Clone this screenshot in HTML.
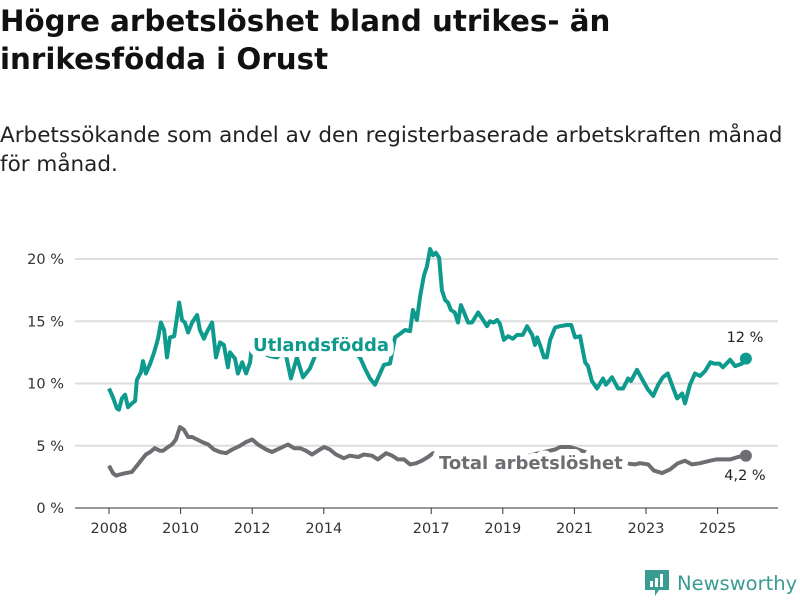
<!DOCTYPE html>
<html><head><meta charset="utf-8"><style>
body{margin:0;width:800px;height:600px;background:#fff;font-family:"DejaVu Sans","Liberation Sans",sans-serif;overflow:hidden;position:relative}
#title{position:absolute;left:0;top:2px;font-size:29.3px;font-weight:bold;line-height:38px;color:#111;margin:0}
#sub{position:absolute;left:0;top:121px;font-size:21.5px;line-height:29px;color:#222;margin:0}
svg{position:absolute;left:0;top:0}
</style></head><body>
<h1 id="title">Högre arbetslöshet bland utrikes- än<br>inrikesfödda i Orust</h1>
<p id="sub">Arbetssökande som andel av den registerbaserade arbetskraften månad<br>för månad.</p>
<svg id="chart" width="800" height="600"></svg>
<script>
const yTicks=[0,5,10,15,20];
const yTickLabels=["0 %","5 %","10 %","15 %","20 %"];
const xTicks=[2008,2010,2012,2014,2017,2019,2021,2023,2025];
const foreignDates=[
2008.00,2008.11,2008.22,2008.28,2008.36,2008.45,2008.53,2008.64,2008.73,2008.78,2008.89,2008.95,
2009.03,2009.15,2009.26,2009.37,2009.45,2009.54,2009.62,2009.70,2009.82,2009.96,
2010.04,2010.12,2010.21,2010.32,2010.46,2010.54,2010.65,2010.71,2010.88,2010.99,
2011.10,2011.21,2011.32,2011.38,2011.52,2011.60,2011.72,2011.83,2011.94,
2012.02,2012.22,2012.50,2012.69,2012.92,
2013.08,2013.25,2013.42,2013.61,2013.84,
2014.09,2014.45,2014.73,
2015.01,2015.15,2015.29,2015.43,2015.57,2015.68,2015.85,2015.99,
2016.13,2016.27,2016.41,2016.49,2016.60,2016.69,2016.80,2016.88,2016.97,
2017.05,2017.13,2017.22,2017.30,2017.39,2017.47,2017.55,2017.66,2017.75,2017.83,2017.92,
2018.03,2018.14,2018.31,2018.45,2018.56,2018.64,2018.75,2018.84,2018.92,
2019.03,2019.15,2019.28,2019.40,2019.56,2019.68,2019.82,2019.90,2019.96,
2020.04,2020.15,2020.23,2020.32,2020.46,2020.60,2020.79,2020.91,
2021.02,2021.16,2021.30,2021.38,2021.49,2021.63,2021.80,2021.88,
2022.05,2022.22,2022.36,2022.50,2022.58,2022.75,2022.92,
2023.06,2023.20,2023.34,2023.47,2023.61,2023.75,2023.87,
2024.01,2024.09,2024.23,2024.37,2024.51,2024.65,2024.80,2024.90,
2025.05,2025.15,2025.35,2025.49,2025.68,2025.79];
const foreignValues=[
9.6,8.9,8.0,7.9,8.8,9.1,8.1,8.4,8.6,10.3,10.9,11.8,
10.8,11.6,12.5,13.6,14.9,14.3,12.1,13.7,13.8,16.5,
15.1,14.9,14.1,14.9,15.5,14.3,13.6,14.0,14.9,12.1,
13.3,13.1,11.3,12.5,12.0,10.8,11.7,10.8,11.7,
13.7,12.5,12.2,12.1,12.6,
10.4,12.1,10.5,11.2,12.8,
12.3,12.9,12.6,
12.1,11.2,10.4,9.9,10.8,11.5,11.6,13.7,
14.0,14.3,14.2,15.9,15.1,17.0,18.7,19.4,20.8,
20.3,20.5,20.1,17.5,16.7,16.5,15.9,15.7,14.9,16.3,15.7,
14.9,14.9,15.7,15.1,14.6,15.0,14.9,15.1,14.8,
13.5,13.8,13.6,13.9,13.9,14.6,13.9,13.1,13.7,
13.1,12.1,12.1,13.5,14.5,14.6,14.7,14.7,
13.7,13.8,11.7,11.4,10.2,9.6,10.4,9.9,
10.5,9.6,9.6,10.4,10.2,11.1,10.2,
9.5,9.0,9.9,10.5,10.8,9.7,8.8,
9.2,8.4,9.9,10.8,10.6,11.0,11.7,11.6,
11.6,11.3,11.9,11.4,11.6,12.0];
const totalDates=[2008.00,2008.11,2008.20,2008.31,2008.47,2008.64,2008.78,2008.92,2009.03,2009.15,2009.28,2009.42,2009.51,2009.65,2009.76,2009.87,2009.98,2010.09,2010.21,2010.32,2010.46,2010.60,2010.77,2010.93,2011.10,2011.27,2011.44,2011.66,2011.83,2012.00,2012.16,2012.39,2012.55,2012.78,2013.00,2013.17,2013.34,2013.50,2013.67,2013.89,2014.01,2014.17,2014.34,2014.56,2014.73,2014.96,2015.12,2015.35,2015.51,2015.74,2015.91,2016.07,2016.24,2016.41,2016.58,2016.74,2016.91,2017.05,2017.5,2018.0,2018.5,2019.0,2019.5,2020.0,2020.46,2020.60,2020.88,2021.10,2021.5,2022.0,2022.4,2022.69,2022.83,2023.06,2023.22,2023.45,2023.67,2023.89,2024.09,2024.28,2024.51,2024.79,2024.96,2025.12,2025.35,2025.57,2025.79];
const totalValues=[3.4,2.8,2.6,2.7,2.8,2.9,3.4,3.9,4.3,4.5,4.8,4.6,4.6,4.9,5.1,5.5,6.5,6.3,5.7,5.7,5.5,5.3,5.1,4.7,4.5,4.4,4.7,5.0,5.3,5.5,5.1,4.7,4.5,4.8,5.1,4.8,4.8,4.6,4.3,4.7,4.9,4.7,4.3,4.0,4.2,4.1,4.3,4.2,3.9,4.4,4.2,3.9,3.9,3.5,3.6,3.8,4.1,4.4,4.2,3.9,3.8,3.9,4.0,4.4,4.7,4.9,4.9,4.7,4.3,3.8,3.6,3.5,3.6,3.5,3.0,2.8,3.1,3.6,3.8,3.5,3.6,3.8,3.9,3.9,3.9,4.1,4.2];

const svg=document.getElementById('chart');
const NS='http://www.w3.org/2000/svg';
const x=d=>109+(d-2008)*35.8;
const y=v=>508-v*12.45;
function mk(t,a){const e=document.createElementNS(NS,t);for(const k in a)e.setAttribute(k,a[k]);svg.appendChild(e);return e;}
yTicks.forEach((t,i)=>{
  const g=mk('line',{x1:75,x2:778,y1:y(t),y2:y(t),stroke:t===0?'#333':'#ddd','stroke-width':t===0?1:2});
  
  
  const l=mk('text',{x:64,y:y(t)+5,'text-anchor':'end','font-size':14.5,fill:'#333'});
  l.textContent=yTickLabels[i];
  
  
});
xTicks.forEach(t=>{
  const tk=mk('line',{x1:x(t),x2:x(t),y1:508,y2:514,stroke:'#333','stroke-width':1});
  
  
  const l=mk('text',{x:x(t),y:533,'text-anchor':'middle','font-size':14.5,fill:'#333'});
  l.textContent=t;
  
  
});
function line(ds,vs,col,name){
  const n=Math.min(ds.length,vs.length)-1;
  const p=mk('path',{d:ds.slice(0,n+1).map((d,i)=>(i?'L':'M')+x(d).toFixed(1)+','+y(vs[i]).toFixed(1)).join(''),fill:'none',stroke:col,'stroke-width':4,'stroke-linejoin':'round'});
  
  
  const c=mk('circle',{cx:x(ds[n]),cy:y(vs[n]),r:6,fill:col});
  
  
}
line(totalDates,totalValues,'#6e6d72','total-line');
line(foreignDates,foreignValues,'#0e9a8d','foreign-born-line');
function lab(txt,xx,yy,col,name){
  const t=mk('text',{x:xx,y:yy,'font-size':18,'font-weight':'bold',fill:col,stroke:'#fff','stroke-width':12,'paint-order':'stroke','stroke-linejoin':'round'});
  t.textContent=txt;
  
  
}
lab('Utlandsfödda',253,351,'#0e9a8d','foreign-born-label');
lab('Total arbetslöshet',439,469,'#6e6d72','total-label');
const e1=mk('text',{x:745,y:342,'text-anchor':'middle','font-size':14.5,fill:'#222'});e1.textContent='12 %';


const e2=mk('text',{x:745,y:480,'text-anchor':'middle','font-size':14.5,fill:'#222'});e2.textContent='4,2 %';


</script>
<div style="position:absolute;left:645px;top:570px;display:flex;align-items:center">
<svg width="24" height="26" viewBox="0 0 24 26" style="position:static"><path d="M0 0H24V20H14L10 26V20H0Z" fill="#3a9b90"/><rect x="5" y="11" width="3" height="6" fill="#fff"/><rect x="10" y="8" width="3" height="9" fill="#fff"/><rect x="15" y="4" width="3" height="13" fill="#fff"/></svg>
<span style="margin-left:8px;font-size:19.5px;color:#3a9b90">Newsworthy</span></div>
</body></html>
